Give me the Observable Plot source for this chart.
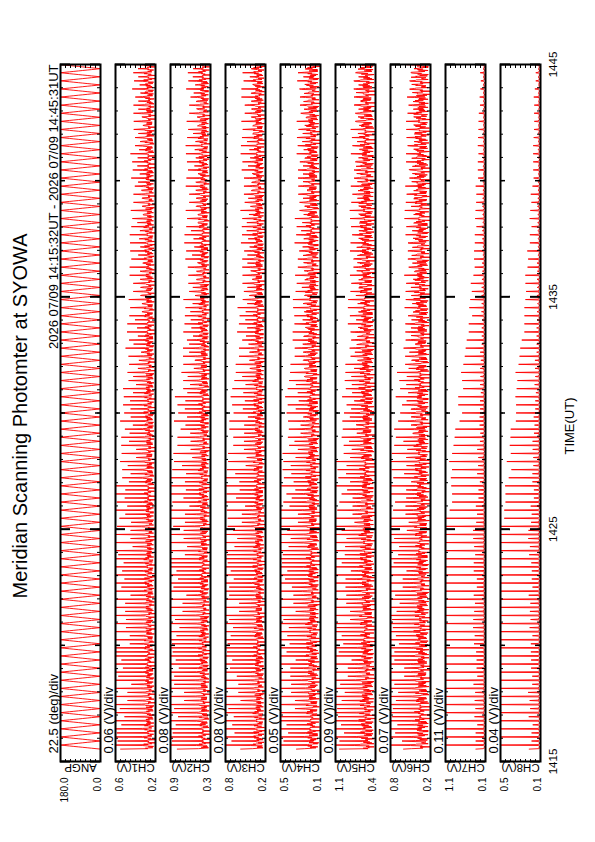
<!DOCTYPE html>
<html><head><meta charset="utf-8">
<script src="https://cdn.jsdelivr.net/npm/d3@7"></script>
<script src="https://cdn.jsdelivr.net/npm/@observablehq/plot@0.6"></script>
<style>
html,body{margin:0;padding:0;overflow:hidden;background:#fff;width:595px;height:842px}
#page{position:absolute;left:0;top:0;width:842px;height:595px;transform-origin:0 0;transform:translate(0px,842px) rotate(-90deg);font-family:"Liberation Sans",Arial,sans-serif;color:#000;background:#fff}
.panel{position:absolute;left:0}
#title{position:absolute;left:10px;width:832px;top:10px;text-align:center;font-size:20px;line-height:20px;white-space:nowrap}
#xlabel{position:absolute;left:316px;width:200px;top:563px;text-align:center;font-size:13px;line-height:13px}
</style></head><body>
<div id="page"><div id="title">Meridian Scanning Photomter at SYOWA</div><div id="xlabel">TIME(UT)</div></div>
<script>
// ---- data ----
const channels = ["ANGP","CH1(V)","CH2(V)","CH3(V)","CH4(V)","CH5(V)","CH6(V)","CH7(V)","CH8(V)"];
const scaleLabels = ["22.5 (deg)/div","0.06 (V)/div","0.08 (V)/div","0.08 (V)/div","0.05 (V)/div","0.09 (V)/div","0.07 (V)/div","0.11 (V)/div","0.04 (V)/div"];
const topLabels = ["180.0","0.6","0.9","0.8","0.5","1.1","0.8","1.1","0.5"];
const bottomLabels = ["0.0","0.2","0.3","0.2","0.1","0.4","0.2","0.1","0.1"];
const domainLow = [0,0.16,0.26,0.18,0.10,0.38,0.22,0.14,0.14];
const divSize = [22.5,0.06,0.08,0.08,0.05,0.09,0.07,0.11,0.04];
const subtitle = "2026 07/09 14:15:32UT - 2026 07/09 14:45:31UT";
const timeTickValues = [15,25,35,45];
const timeTickLabels = ["1415","1425","1435","1445"];
const fiveMinuteTicks = [20,30,40];
const startMinute = 15 + 32/60;
const endMinute = 45 + 31/60;
const scanCount = 86;
const scanAngles = [0,20,40,60,80,100,120,140,160,180];
const bandShape = [0.62,0.42,0.30,0.24,0.26,0.34,0.48,0.72];
const bandBase = [0,0.174,0.279,0.199,0.112,0.40,0.237,0.158,0.146];
const bandTop = [0,0.328,0.497,0.423,0.28,0.74,0.50,0.193,0.159];
const midRatio = [0,0.65,0.65,0.65,0.65,0.65,0.65,0.2,0.2];
// spike peak per minute 14:15 .. 14:45
const peakCH1 = [0.74,0.74,0.74,0.74,0.74,0.74,0.74,0.74,0.74,0.69,0.65,0.62,0.60,0.58,0.57,0.54,0.52,0.50,0.47,0.46,0.45,0.45,0.44,0.44,0.44,0.43,0.43,0.43,0.43,0.42,0.42];
const peakCH2 = [1.03,1.03,1.03,1.03,1.03,1.03,1.03,1.03,1.03,0.96,0.91,0.87,0.85,0.82,0.80,0.77,0.74,0.71,0.68,0.66,0.64,0.64,0.64,0.63,0.63,0.62,0.62,0.62,0.62,0.61,0.61];
const peakCH3 = [0.95,0.95,0.95,0.95,0.95,0.95,0.95,0.95,0.95,0.88,0.83,0.79,0.77,0.74,0.72,0.69,0.66,0.63,0.60,0.58,0.56,0.56,0.56,0.55,0.55,0.54,0.54,0.54,0.54,0.53,0.53];
const peakCH4 = [0.58,0.58,0.58,0.58,0.58,0.58,0.58,0.58,0.58,0.54,0.51,0.48,0.47,0.45,0.44,0.42,0.40,0.38,0.36,0.35,0.34,0.34,0.34,0.33,0.33,0.33,0.33,0.32,0.32,0.32,0.32];
const peakCH5 = [1.24,1.24,1.24,1.24,1.24,1.24,1.24,1.24,1.24,1.17,1.11,1.07,1.04,1.01,0.99,0.96,0.92,0.88,0.85,0.83,0.81,0.81,0.80,0.80,0.80,0.79,0.79,0.78,0.78,0.78,0.78];
const peakCH6 = [0.89,0.89,0.89,0.89,0.89,0.89,0.89,0.89,0.89,0.84,0.79,0.76,0.74,0.71,0.70,0.67,0.64,0.61,0.58,0.57,0.56,0.56,0.55,0.55,0.55,0.54,0.54,0.53,0.53,0.53,0.53];
const peakCH7 = [1.2,1.2,1.2,1.2,1.2,1.2,1.2,1.2,1.2,1.2,1.02,0.93,0.86,0.81,0.76,0.70,0.63,0.58,0.53,0.47,0.43,0.40,0.38,0.36,0.34,0.32,0.30,0.28,0.26,0.25,0.25];
const peakCH8 = [0.52,0.52,0.52,0.52,0.52,0.52,0.52,0.52,0.52,0.52,0.46,0.43,0.40,0.38,0.36,0.35,0.32,0.30,0.28,0.26,0.25,0.24,0.23,0.22,0.21,0.20,0.20,0.19,0.19,0.18,0.18];
const jitter = [0.3,-0.6,0.9,-0.2,0.1,0.7,-0.9,0.4,-0.3,0.8,-0.5,0.0,0.6,-0.8,0.2,0.5,-0.1,-0.7,1.0,-0.4,0.3,-0.9,0.6,0.1,-0.6,0.8,-0.2,0.4,-1.0,0.7,0.0,-0.3,0.9,-0.5,0.2,0.6,-0.8,0.5,-0.1,0.3,-0.7];

// ---- build tables ----
const peaks = [null,peakCH1,peakCH2,peakCH3,peakCH4,peakCH5,peakCH6,peakCH7,peakCH8];
const angleCycle = scanAngles.concat(scanAngles.slice(1,-1).reverse());
const stepMinutes = (endMinute - startMinute) / (scanCount * angleCycle.length);
function channelRows(c) {
  const out = [];
  const n = scanCount * angleCycle.length;
  for (let j = 0; j <= n; j++) {
    const k = j % angleCycle.length;
    const t = startMinute + j * stepMinutes;
    const a = angleCycle[k];
    if (c === 0) { out.push({t, v: a}); continue; }
    const m = Math.min(peaks[c].length - 1, Math.floor(t) - 15);
    const J = jitter[(j + 7 * c) % jitter.length];
    const b = bandBase[c], p = peaks[c][m];
    let v;
    if (a === 180) v = p + (p - b) * 0.12 * J;
    else if (a === 0) v = b + (p - b) * midRatio[c] * (1 + 0.25 * J);
    else v = b + (bandTop[c] - b) * (bandShape[scanAngles.indexOf(a) - 1] + 0.35 * J);
    out.push({t, v});
  }
  return out;
}

// ---- draw ----
const W = 842, ML = 80, MR = 65, PH = 40, MT = 15;
const FW = W - ML - MR;
const minuteTicks = d3.range(16, 45);
const page = document.getElementById("page");
for (let i = 0; i < channels.length; i++) {
  const last = i === channels.length - 1;
  const MB = last ? 26 : 0;
  const lo = domainLow[i], hi = lo + 8 * divSize[i];
  const valueTicks = d3.range(1, 8).map(k => lo + k * divSize[i]);
  const marks = [
    Plot.line(channelRows(i), {x: "t", y: "v", stroke: "#ff0000", strokeWidth: 0.9, clip: true}),
    Plot.tickX(minuteTicks, {x: d => d, insetBottom: PH - 3, stroke: "#000", strokeWidth: 1}),
    Plot.tickX(minuteTicks, {x: d => d, insetTop: PH - 3, stroke: "#000", strokeWidth: 1}),
    Plot.tickX(fiveMinuteTicks, {x: d => d, insetBottom: PH - 5, stroke: "#000", strokeWidth: 1.5}),
    Plot.tickX(fiveMinuteTicks, {x: d => d, insetTop: PH - 5, stroke: "#000", strokeWidth: 1.5}),
    Plot.tickX(timeTickValues, {x: d => d, insetBottom: PH - 10, stroke: "#000", strokeWidth: 2}),
    Plot.tickX(timeTickValues, {x: d => d, insetTop: PH - 10, stroke: "#000", strokeWidth: 2}),
    Plot.tickY(valueTicks, {y: d => d, insetRight: FW - 3, stroke: "#000", strokeWidth: 1}),
    Plot.tickY(valueTicks, {y: d => d, insetLeft: FW - 3, stroke: "#000", strokeWidth: 1}),
    Plot.frame({stroke: "#000", strokeWidth: 2}),
    Plot.text([scaleLabels[i]], {text: d => d, frameAnchor: "top-left", dx: 8, dy: -3, lineAnchor: "bottom", textAnchor: "start", fontSize: 13}),
    Plot.text([topLabels[i]], {text: d => d, frameAnchor: "top-left", dx: -16, dy: 4, lineAnchor: "middle", textAnchor: "end", fontSize: 10}),
    Plot.text([bottomLabels[i]], {text: d => d, frameAnchor: "bottom-left", dx: -16, dy: -3, lineAnchor: "middle", textAnchor: "end", fontSize: 10}),
    Plot.text([channels[i]], {text: d => d, frameAnchor: "left", dx: -2, rotate: -90, lineAnchor: "bottom", textAnchor: "middle", fontSize: 11.5})
  ];
  if (i === 0) marks.push(Plot.text([subtitle], {text: d => d, frameAnchor: "top-right", dy: -3, lineAnchor: "bottom", textAnchor: "end", fontSize: 13}));
  if (last) marks.push(Plot.text(timeTickValues, {x: d => d, text: (d, k) => timeTickLabels[k], frameAnchor: "bottom", dy: 8, lineAnchor: "top", textAnchor: "middle", fontSize: 11.5}));
  const svg = Plot.plot({
    width: W, height: MT + PH + MB,
    marginLeft: ML, marginRight: MR, marginTop: MT, marginBottom: MB,
    x: {domain: [15, 45], axis: null},
    y: {domain: [lo, hi], axis: null},
    style: {background: "none", overflow: "visible", fontFamily: "Liberation Sans, Arial, sans-serif"},
    marks
  });
  const holder = document.createElement("div");
  holder.className = "panel";
  holder.style.top = (60 + 55 * i - MT) + "px";
  holder.appendChild(svg);
  page.appendChild(holder);
}
</script>
</body></html>
